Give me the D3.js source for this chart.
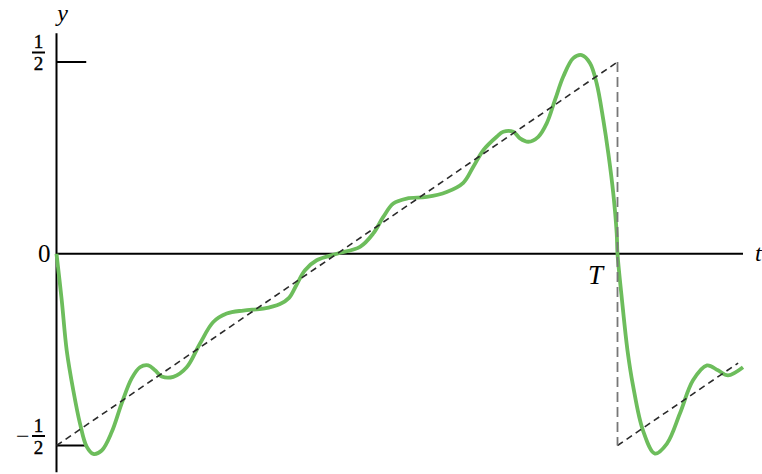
<!DOCTYPE html>
<html>
<head>
<meta charset="utf-8">
<script src="https://cdn.jsdelivr.net/npm/d3@7"></script>
<style>
  body { margin: 0; background: #fff; }
  svg { display: block; }
  text { font-family: "Liberation Serif", "Times New Roman", serif; fill: #000; }
</style>
</head>
<body>
<svg id="chart" width="762" height="474"></svg>
<script>
// partial Fourier sum (t in units of T)
const curveT = [0, 0.0093, 0.0182, 0.0299, 0.0419, 0.0538, 0.0656, 0.0806, 0.0984, 0.1162,
  0.134, 0.1488, 0.1636, 0.1756, 0.1875, 0.2082, 0.2321, 0.2558, 0.2795, 0.3034,
  0.333, 0.3686, 0.3984, 0.4145, 0.4282, 0.443, 0.4638, 0.5, 0.541, 0.5647,
  0.5825, 0.6004, 0.6242, 0.6599, 0.6955, 0.7251, 0.743, 0.7608, 0.7847, 0.7964,
  0.8143, 0.8262, 0.841, 0.8588, 0.8738, 0.8886, 0.9034, 0.9212, 0.9362, 0.951,
  0.9629, 0.9747, 0.9836, 0.9925, 0.9986, 1.0, 1.008, 1.0178, 1.0276, 1.0455,
  1.0668, 1.0882, 1.1114, 1.1346, 1.1595, 1.1791, 1.197, 1.2237];
const curveY = [0, -0.121, -0.252, -0.356, -0.443, -0.503, -0.522, -0.513, -0.465, -0.390,
  -0.325, -0.296, -0.291, -0.304, -0.320, -0.321, -0.296, -0.234, -0.178, -0.156,
  -0.148, -0.143, -0.131, -0.115, -0.080, -0.043, -0.017, 0, 0.018, 0.053,
  0.096, 0.131, 0.144, 0.148, 0.161, 0.185, 0.227, 0.270, 0.305, 0.318,
  0.318, 0.301, 0.292, 0.305, 0.340, 0.401, 0.462, 0.510, 0.518, 0.497,
  0.444, 0.349, 0.262, 0.157, 0.053, 0, -0.121, -0.252, -0.343, -0.461,
  -0.521, -0.495, -0.416, -0.330, -0.291, -0.304, -0.317, -0.296];

// the sawtooth itself (dashed)
const sawT = [0, 1];
const sawY = [-0.5, 0.5];
const jumpT = [1, 1];
const jumpY = [0.5, -0.5];
const nextT = [1, 1.215];
const nextY = [-0.5, -0.285];

const tEnd = 1.2237;          // end of the t axis
const yAxisExtent = [-0.57, 0.575];
const yTicks = [0.5, -0.5];

const svg = d3.select('#chart');

const x = d3.scaleLinear().domain([0, 1]).range([56.5, 617.5]);
const y = d3.scaleLinear().domain([-0.5, 0.5]).range([445.5, 62]);

// axes
svg.append('line')
   .attr('x1', x(0)).attr('x2', x(tEnd))
   .attr('y1', y(0)).attr('y2', y(0))
   .attr('stroke', '#000').attr('stroke-width', 2);

svg.append('line')
   .attr('x1', x(0)).attr('x2', x(0))
   .attr('y1', y(yAxisExtent[0])).attr('y2', y(yAxisExtent[1]))
   .attr('stroke', '#000').attr('stroke-width', 2);

// ticks at +-1/2
svg.selectAll('.tick')
   .data(yTicks)
   .enter().append('line')
   .attr('class', 'tick')
   .attr('x1', x(0)).attr('x2', x(0.053))
   .attr('y1', d => y(d)).attr('y2', d => y(d))
   .attr('stroke', '#000').attr('stroke-width', 2);

// fraction labels 1/2 and -1/2
yTicks.forEach(v => {
    const cx = 38.5;
    const by = y(v) - 9.5;
    const g = svg.append('g');
    g.append('text')
     .attr('x', cx).attr('y', by - 4.5)
     .attr('text-anchor', 'middle')
     .attr('font-size', 19)
     .attr('stroke', '#000').attr('stroke-width', 0.4)
     .text('1');
    g.append('line')
     .attr('x1', cx - 6.5).attr('x2', cx + 6.5)
     .attr('y1', by).attr('y2', by)
     .attr('stroke', '#000').attr('stroke-width', 2);
    g.append('text')
     .attr('x', cx).attr('y', by + 17.5)
     .attr('text-anchor', 'middle')
     .attr('font-size', 19)
     .attr('stroke', '#000').attr('stroke-width', 0.4)
     .text('2');
    if (v < 0) {
        g.append('text')
         .attr('x', cx - 9).attr('y', by + 7.5)
         .attr('text-anchor', 'end')
         .attr('font-size', 24)
         .text('\u2212');
    }
});

svg.append('text')
   .attr('x', x(0) - 6).attr('y', y(0) + 8)
   .attr('text-anchor', 'end')
   .attr('font-size', 25)
   .text('0');

svg.append('text')
   .attr('x', x(0) + 6).attr('y', 21)
   .attr('text-anchor', 'middle')
   .attr('font-size', 24)
   .attr('font-style', 'italic')
   .text('y');

svg.append('text')
   .attr('x', x(tEnd) + 12).attr('y', y(0) + 7)
   .attr('text-anchor', 'start')
   .attr('font-size', 24)
   .attr('font-style', 'italic')
   .text('t');

svg.append('text')
   .attr('x', x(1) - 22).attr('y', y(0) + 30)
   .attr('text-anchor', 'middle')
   .attr('font-size', 27)
   .attr('font-style', 'italic')
   .text('T');

// green partial sum
const curveData = curveT.map((t, i) => ({ t: t, v: curveY[i] }));
const line = d3.line()
               .x(d => x(d.t))
               .y(d => y(d.v))
               .curve(d3.curveCatmullRom.alpha(0.5));

svg.append('path')
   .datum(curveData)
   .attr('fill', 'none')
   .attr('stroke', '#6dbd5c')
   .attr('stroke-width', 3.8)
   .attr('stroke-linejoin', 'round')
   .attr('d', line);

// dashed sawtooth
const straight = d3.line().x(d => x(d.t)).y(d => y(d.v));
const toPts = (ts, vs) => ts.map((t, i) => ({ t: t, v: vs[i] }));

svg.append('path')
   .datum(toPts(sawT, sawY))
   .attr('fill', 'none')
   .attr('stroke', '#2a2a2a')
   .attr('stroke-width', 1.6)
   .attr('stroke-dasharray', '6.5,4.5')
   .attr('d', straight);

svg.append('path')
   .datum(toPts(nextT, nextY))
   .attr('fill', 'none')
   .attr('stroke', '#2a2a2a')
   .attr('stroke-width', 1.6)
   .attr('stroke-dasharray', '6.5,4.5')
   .attr('d', straight);

svg.append('path')
   .datum(toPts(jumpT, jumpY))
   .attr('fill', 'none')
   .attr('stroke', '#777')
   .attr('stroke-width', 1.8)
   .attr('stroke-dasharray', '10,5')
   .attr('d', straight);
</script>
</body>
</html>
